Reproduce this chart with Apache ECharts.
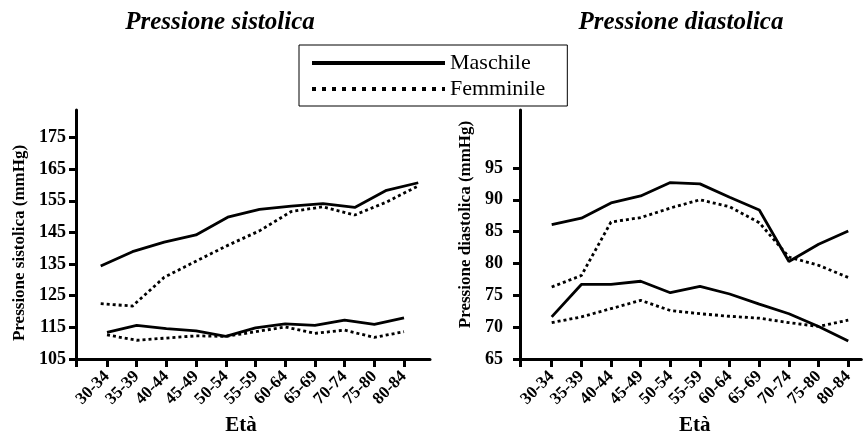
<!DOCTYPE html>
<html>
<head>
<meta charset="utf-8">
<script src="https://cdn.jsdelivr.net/npm/echarts@6/dist/echarts.min.js"></script>
<style>
  html, body { margin: 0; padding: 0; background: #fff; }
  #chart { width: 864px; height: 441px; }
</style>
</head>
<body>
<div id="chart"></div>
<script>
// categories
const ageGroups = ['30-34', '35-39', '40-44', '45-49', '50-54', '55-59', '60-64', '65-69', '70-74', '75-80', '80-84'];
// tick labels
const sysTicks = [105, 115, 125, 135, 145, 155, 165, 175];
const diaTicks = [65, 70, 75, 80, 85, 90, 95];
// pressione sistolica
const sysMaleHigh = [134.4, 138.9, 141.9, 144.2, 149.8, 152.3, 153.3, 154.1, 152.9, 158.3, 160.7];
const sysFemaleHigh = [122.5, 121.7, 130.8, 135.9, 140.9, 145.5, 151.6, 153.1, 150.5, 154.6, 159.7];
const sysMaleLow = [113.4, 115.6, 114.6, 113.9, 112.1, 114.8, 116.1, 115.6, 117.3, 115.9, 118.0];
const sysFemaleLow = [112.6, 110.9, 111.6, 112.3, 112.1, 113.6, 115.1, 113.1, 114.1, 111.8, 113.6];
// pressione diastolica
const diaMaleHigh = [86.1, 87.1, 89.5, 90.6, 92.7, 92.5, 90.4, 88.4, 80.3, 83.0, 85.1];
const diaFemaleHigh = [76.3, 78.1, 86.5, 87.2, 88.7, 90.0, 88.9, 86.4, 81.0, 79.7, 77.8];
const diaMaleLow = [71.6, 76.7, 76.7, 77.2, 75.4, 76.4, 75.2, 73.6, 72.1, 70.1, 67.8];
const diaFemaleLow = [70.7, 71.6, 72.9, 74.2, 72.6, 72.1, 71.7, 71.4, 70.7, 70.1, 71.1];

const FONT = 'Liberation Serif';
const idx = ageGroups.map((g, i) => i);
const pairs = (arr) => arr.map((v, i) => [i, v]);

const makeX = (grid, min, max, nameShift) => ({
  type: 'value',
  gridIndex: grid,
  min: min,
  max: max,
  splitLine: { show: false },
  axisLine: { onZero: false, lineStyle: { color: '#000', width: 3 } },
  axisTick: { customValues: [min].concat(idx), length: 8, lineStyle: { color: '#000', width: 3 } },
  axisLabel: {
    customValues: idx,
    formatter: (v) => ageGroups[Math.round(v)],
    rotate: 45,
    margin: 15,
    color: '#000',
    fontFamily: FONT,
    fontWeight: 'bold',
    fontSize: 17,
  },
  name: 'Età',
  nameLocation: 'middle',
  nameGap: 56,
  nameTextStyle: {
    color: '#000',
    fontFamily: FONT,
    fontWeight: 'bold',
    fontSize: 21,
    padding: nameShift < 0 ? [0, -2 * nameShift, 0, 0] : [0, 0, 0, 2 * nameShift],
  },
});

const makeY = (grid, min, max, ticks, name, gap, margin, pad) => ({
  type: 'value',
  gridIndex: grid,
  min: min,
  max: max,
  splitLine: { show: false },
  axisLine: { onZero: false, lineStyle: { color: '#000', width: 3 } },
  axisTick: { customValues: ticks, length: 7, lineStyle: { color: '#000', width: 3 } },
  axisLabel: {
    customValues: ticks,
    margin: margin,
    color: '#000',
    fontFamily: FONT,
    fontWeight: 'bold',
    fontSize: 18,
  },
  name: name,
  nameLocation: 'middle',
  nameGap: gap,
  nameTextStyle: {
    color: '#000',
    fontFamily: FONT,
    fontWeight: 'bold',
    fontSize: 17,
    padding: pad,
  },
});

const solid = { color: '#000', width: 2.8, type: 'solid' };
const dotted = { color: '#000', width: 2.8, type: [3, 3], cap: 'butt' };
const line = (name, data, xi, yi, style) => ({
  name: name,
  type: 'line',
  xAxisIndex: xi,
  yAxisIndex: yi,
  data: pairs(data),
  symbol: 'none',
  silent: true,
  color: '#000',
  lineStyle: style,
});

let myChart = echarts.init(document.getElementById('chart'), null, { renderer: 'canvas' });
let option = {
  animation: false,
  backgroundColor: '#fff',
  title: [
    {
      text: 'Pressione sistolica',
      left: 220,
      textAlign: 'center',
      top: 10,
      padding: 0,
      textStyle: { fontFamily: FONT, fontStyle: 'italic', fontWeight: 'bold', fontSize: 25, color: '#000' },
    },
    {
      text: 'Pressione diastolica',
      left: 681,
      textAlign: 'center',
      top: 10,
      padding: 0,
      textStyle: { fontFamily: FONT, fontStyle: 'italic', fontWeight: 'bold', fontSize: 25, color: '#000' },
    },
  ],
  legend: {
    orient: 'vertical',
    left: 299,
    top: 45,
    padding: [7, 22, 6, 11],
    itemWidth: 133,
    itemHeight: 14,
    itemGap: 4,
    borderColor: '#000',
    borderWidth: 1,
    backgroundColor: '#fff',
    selectedMode: false,
    itemStyle: { opacity: 0 },
    textStyle: { fontFamily: FONT, fontSize: 22, lineHeight: 21, color: '#000' },
    data: [
      { name: 'Maschile', lineStyle: { width: 4, type: 'solid' } },
      { name: 'Femminile', lineStyle: { width: 4, type: [4, 6] } },
    ],
  },
  grid: [
    { left: 76, top: 110, width: 354, height: 257.3 },
    { left: 520, top: 110, width: 341.3, height: 256.7 },
  ],
  xAxis: [
    makeX(0, -1.044, 10.875, -12),
    // the upper pair of curves is printed a bit wider in the original figure
    { type: 'value', gridIndex: 0, min: -0.778, max: 10.37, show: false },
    makeX(1, -1.069, 10.44, 4),
  ],
  yAxis: [
    makeY(0, 105, 183.7, sysTicks, 'Pressione sistolica (mmHg)', 48, 10, [0, 17, 0, 0]),
    makeY(1, 65, 104.1, diaTicks, 'Pressione diastolica (mmHg)', 46, 17, [0, 0, 0, 20]),
  ],
  series: [
    line('Maschile', sysMaleHigh, 1, 0, solid),
    line('Femminile', sysFemaleHigh, 1, 0, dotted),
    line('Maschile', sysMaleLow, 0, 0, solid),
    line('Femminile', sysFemaleLow, 0, 0, dotted),
    line('Maschile', diaMaleHigh, 2, 1, solid),
    line('Femminile', diaFemaleHigh, 2, 1, dotted),
    line('Maschile', diaMaleLow, 2, 1, solid),
    line('Femminile', diaFemaleLow, 2, 1, dotted),
  ],
};
myChart.setOption(option);
</script>
</body>
</html>
